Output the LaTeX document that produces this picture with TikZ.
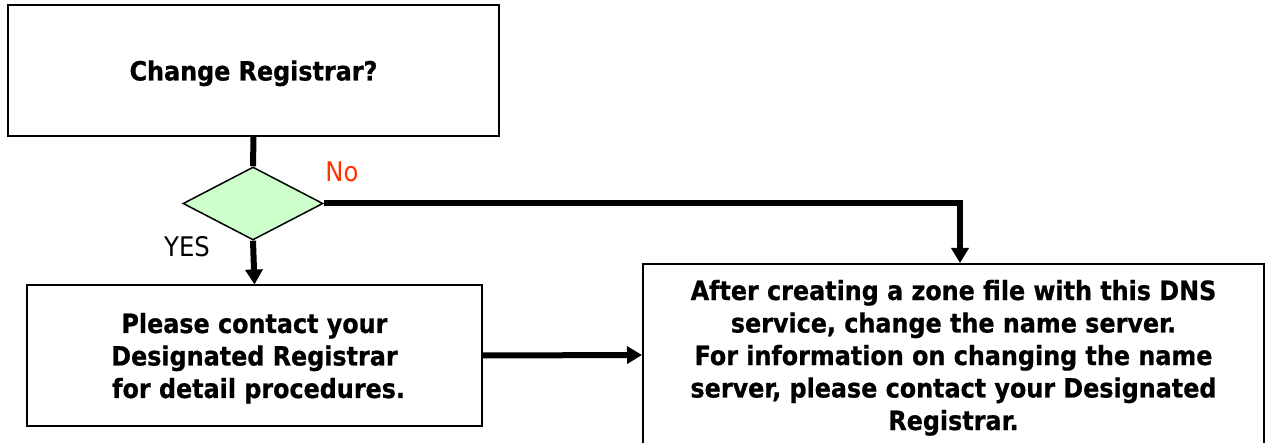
\documentclass[tikz,border=0pt]{standalone}
\usepackage{fontspec}
\setmainfont{DejaVu Sans Condensed}[BoldFeatures={FakeBold=0.7}]
\usetikzlibrary{shapes.geometric,arrows.meta}
\definecolor{dgreen}{HTML}{CCFFCC}
\definecolor{nored}{HTML}{FF3300}
\newcommand\boxtext[1]{\raisebox{-3.5pt}[\height][\depth]{\begin{tabular}{@{}c@{}}#1\end{tabular}}}
\tikzset{
  box/.style={draw=black, line width=2pt, fill=white, inner sep=0pt,
              font=\fontsize{26.5}{32.5}\selectfont\bfseries},
  decision/.style={diamond, draw=black, line width=1.5pt, fill=dgreen, inner sep=0pt,
                   minimum width=140pt, minimum height=73pt, aspect=1.92},
  conn/.style={line width=6pt, line cap=butt},
  arr/.style={conn, -{Triangle[width=17pt,length=15pt]}},
  lbl/.style={font=\fontsize{27}{32.5}\selectfont, inner sep=0pt}
}
\begin{document}
\begin{tikzpicture}[x=1pt,y=-1pt]
\clip (0,0) rectangle (1271,443);
\fill[white] (0,0) rectangle (1271,443);
\node[box, minimum width=491pt, minimum height=131pt] (q) at (253.5,70.5) {\boxtext{Change Registrar?}};
\node[decision] (d) at (253,203.5) {};
\node[box, minimum width=455pt, minimum height=140pt] (p) at (254.5,355.5)
  {\boxtext{Please contact your\\Designated Registrar\\\ for detail procedures.}};
\node[box, minimum width=621pt, minimum height=182pt] (r) at (953.5,355)
  {\boxtext{After creating a zone file with this DNS\\service, change the name server.\\For information on changing the name\\server, please contact your Designated\\Registrar.}};
\coordinate (turn) at (960,203.5);
\draw[conn] (q.south) -- (d.north);
\draw[arr] (d.south) -- (p.north);
\draw[arr] (d.east) -- (turn) -- (turn |- r.north);
\draw[arr] (p.east) -- (r.west);
\node[lbl, text=nored] (no) at (342,172) {No};
\node[lbl] (yes) at (187,247) {YES};
\end{tikzpicture}
\end{document}
